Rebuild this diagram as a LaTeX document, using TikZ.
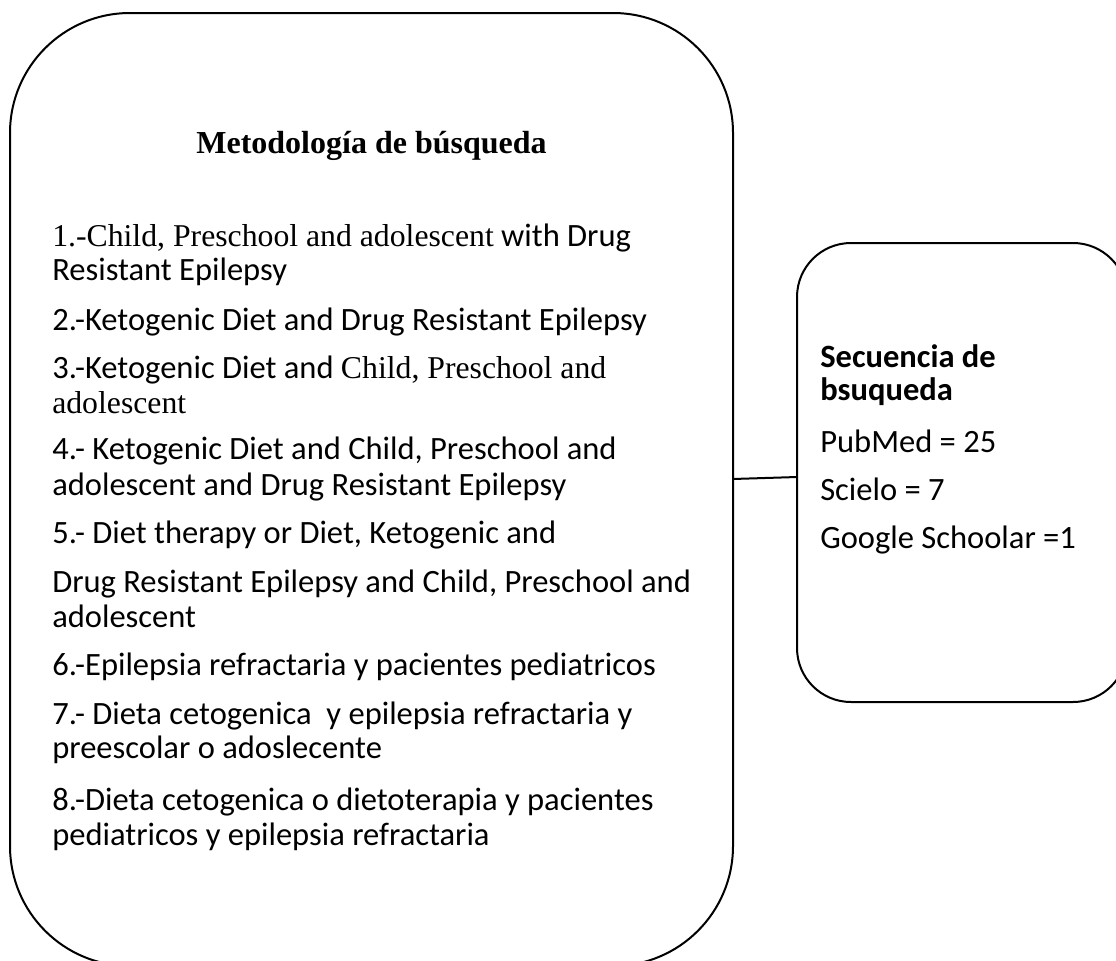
\documentclass[tikz,border=0pt]{standalone}
\usepackage{fontspec}
\setmainfont{Carlito}
\newfontfamily\tnr{Liberation Serif}
\usepackage{tikz}
\usetikzlibrary{calc}
\newcommand{\tmsr}[1]{{\tnr\fontsize{23.8}{28}\selectfont #1}}

\begin{document}
\begin{tikzpicture}[x=0.75pt, y=-0.75pt, every node/.style={inner sep=0pt},
	roundbox/.style={draw, line width=1.5pt, rounded corners=#1},
	itemline/.style={anchor=base west, font=\fontsize{24.4}{29}\selectfont}]
	\useasboundingbox (0,0) rectangle (1116,960);
	\clip (0,0) rectangle (1116,960);
	% \fill[white] (0,0) rectangle (1116,960);
	\node[roundbox=90pt, minimum width=542.25pt, minimum height=714.75pt] (lbox) at (371.5,489.5) {};
	\node[roundbox=40.5pt, minimum width=247.5pt, minimum height=344.25pt] (rbox) at (962,472.5) {};
	\draw[line width=1.5pt] ([yshift=7.9pt]lbox.east) -- ([yshift=-3.4pt]rbox.west);

	\node[anchor=base, font=\tnr\bfseries\fontsize{24}{28}\selectfont] (title) at (371.5,153) {Metodología de búsqueda};
	\foreach \yy/\txt [count=\i] in {
		246/{\tmsr{1.-Child, Preschool and adolescent} with Drug},
		280/{Resistant Epilepsy},
		330/{2.-Ketogenic Diet and Drug Resistant Epilepsy},
		378/{3.-Ketogenic Diet and \tmsr{Child, Preschool and}},
		413/{\tmsr{adolescent}},
		459/{4.- Ketogenic Diet and Child, Preschool and},
		495/{adolescent and Drug Resistant Epilepsy},
		543/{5.- Diet therapy or Diet, Ketogenic and},
		592/{Drug Resistant Epilepsy and Child, Preschool and},
		627/{adolescent},
		675/{6.-Epilepsia refractaria y pacientes pediatricos},
		724/{7.- Dieta cetogenica\ \ y epilepsia refractaria y},
		758/{preescolar o adoslecente},
		810/{8.-Dieta cetogenica o dietoterapia y pacientes},
		845/{pediatricos y epilepsia refractaria}}
		\node[itemline] (ln\i) at (52,\yy) {\txt};

	\foreach \yy/\txt [count=\i] in {
		367/{\textbf{Secuencia de}},
		400/{\textbf{bsuqueda}},
		452/{PubMed = 25},
		500/{Scielo = 7},
		548/{Google Schoolar =1}}
		\node[itemline] (rn\i) at (820,\yy) {\txt};
\end{tikzpicture}
\end{document}
